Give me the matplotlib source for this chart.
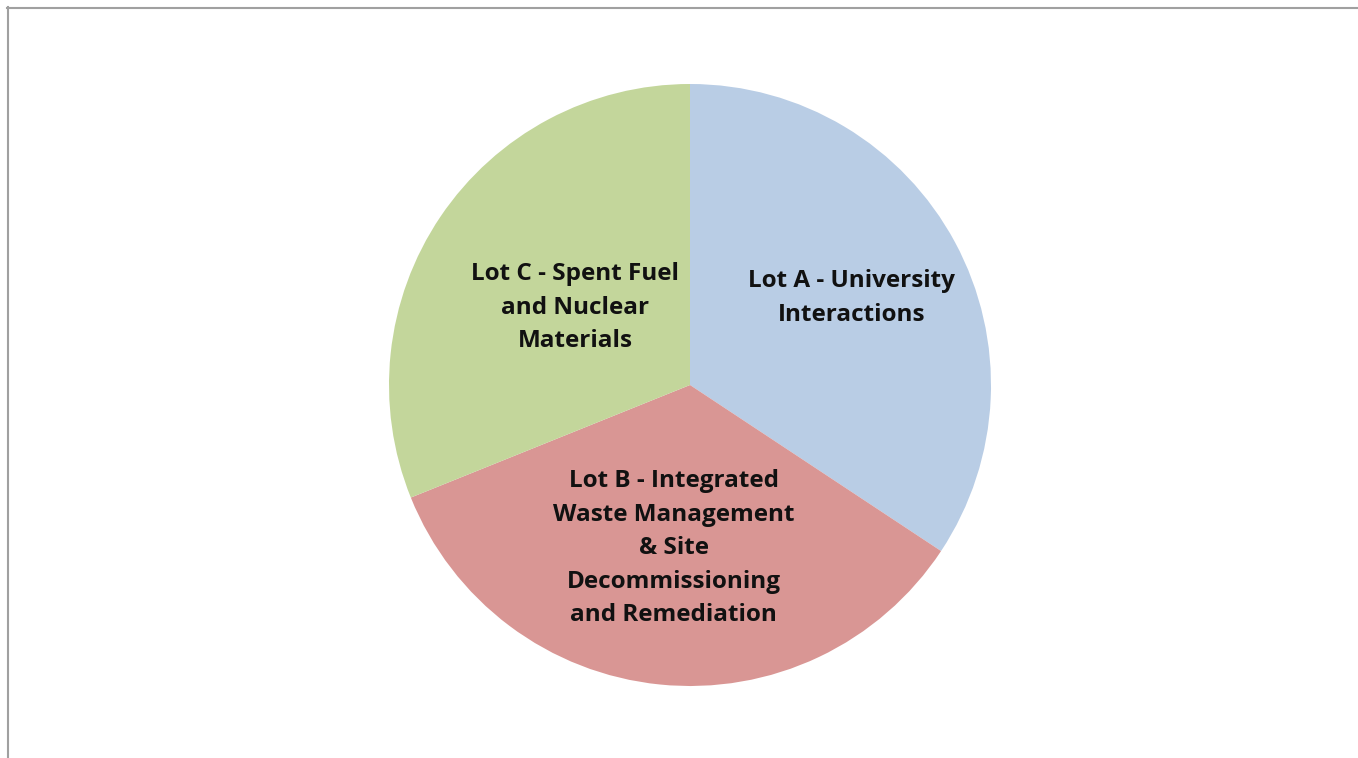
import matplotlib
matplotlib.use("Agg")
import matplotlib.pyplot as plt
import numpy as np
from matplotlib.lines import Line2D

labels = ["Lot A - University\nInteractions",
          "Lot B - Integrated\nWaste Management\n& Site\nDecommissioning\nand Remediation",
          "Lot C - Spent Fuel\nand Nuclear\nMaterials"]
values = [34.3, 34.6, 31.1]
colors = ["#B9CDE5", "#D99694", "#C3D69B"]
label_dist = [0.61, 0.545, 0.46]

W, H = 1358, 758
fig = plt.figure(figsize=(W / 100, H / 100), dpi=100)
fig.patch.set_facecolor("white")

# border lines (top and left)
fig.add_artist(Line2D([7 / W, 1.0], [1 - 7.5 / H, 1 - 7.5 / H], color="#A0A0A0", lw=1.5, transform=fig.transFigure))
fig.add_artist(Line2D([7.5 / W, 7.5 / W], [0, 1 - 7 / H], color="#A0A0A0", lw=1.5, transform=fig.transFigure))

cx, cy, r = 690, 385, 301
ax = fig.add_axes([(cx - r) / W, (H - cy - r) / H, 2 * r / W, 2 * r / H])
wedges, _ = ax.pie(values, colors=colors, startangle=90, counterclock=False,
                   wedgeprops=dict(linewidth=0))
ax.set_xlim(-1, 1)
ax.set_ylim(-1, 1)
ax.set_aspect("equal")

for w, lab, d in zip(wedges, labels, label_dist):
    ang = np.deg2rad((w.theta1 + w.theta2) / 2)
    ax.text(d * np.cos(ang), d * np.sin(ang), lab, ha="center", va="center",
            fontsize=17.5, fontweight="bold", family="Open Sans", color="#111111",
            linespacing=1.53)

fig.savefig("out.png", dpi=100)
